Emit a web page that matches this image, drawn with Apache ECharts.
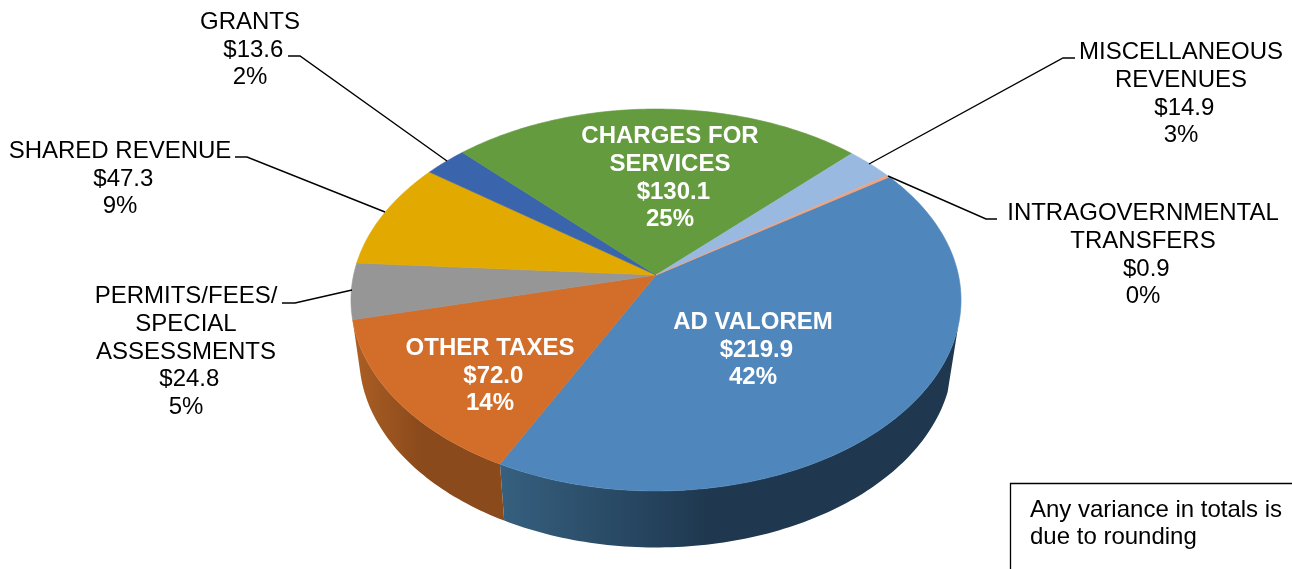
<!DOCTYPE html>
<html>
<head>
<meta charset="utf-8">
<title>Revenue pie</title>
<style>
html, body { margin: 0; padding: 0; background: #fff; }
#main { width: 1292px; height: 569px; }
</style>
<script src="https://cdn.jsdelivr.net/npm/echarts@6/dist/echarts.min.js"></script>
</head>
<body>
<div id="main"></div>
<script>
// data, clockwise from the top right edge of AD VALOREM
var categories = ['AD VALOREM', 'OTHER TAXES', 'PERMITS/FEES/\nSPECIAL\nASSESSMENTS', 'SHARED REVENUE', 'GRANTS', 'CHARGES FOR\nSERVICES', 'MISCELLANEOUS\nREVENUES', 'INTRAGOVERNMENTAL\nTRANSFERS'];
var amounts = [219.9, 72.0, 24.8, 47.3, 13.6, 130.1, 14.9, 0.9];
var percents = [42, 14, 5, 9, 2, 25, 3, 0];
var note = 'Any variance in totals is\ndue to rounding';

// styles
var topColors = ['#4f87bc', '#d26e2a', '#969696', '#e2a900', '#3a64ab', '#659b3f', '#9ab9e0', '#f2a27a'];
var wallColors = [['#36607f', '#1f3850'], ['#ad5f24', '#8a4a1c'], ['#6a6a6a', '#6a6a6a'], ['#a07800', '#a07800'], ['#2a4679', '#2a4679'], ['#47702d', '#47702d'], ['#6d85a0', '#6d85a0'], ['#a87050', '#a87050']];

// label placement: centre x, centre y, text colour, bold
var labelSpots = [
    [753, 350, '#fff', true],
    [490, 376, '#fff', true],
    [186, 352, '#000', false],
    [120, 179, '#000', false],
    [250, 50, '#000', false],
    [670, 178, '#fff', true],
    [1181, 94, '#000', false],
    [1143, 255, '#000', false]
];
// leader lines
var leaders = [
    [[288, 56], [300, 56], [447, 161]],
    [[235, 157], [247, 157], [385, 212]],
    [[282, 303], [295, 303], [352, 290]],
    [[1075, 58], [1063, 58], [869, 164]],
    [[997, 219], [986, 219], [888, 176]]
];

// pie geometry: circle seen in perspective
var cx = 656, cy = 275;
var a = 302.4, b = 187.7, k = 0.1309;
var depth = 56.5, shrink = 0.973;
var startDeg = -34.1;
// where the wall outline leaves the top face and meets the lower rim
var wallTop = [15, 167], wallLow = [18, 167];
var total = amounts.reduce(function (s, v) { return s + v; }, 0);

function project(deg, lower) {
    var t = deg * Math.PI / 180;
    var x = Math.cos(t), y = Math.sin(t);
    var s = 1 / (1 - k * y);
    if (lower) {
        return [cx + a * x * s * shrink, cy + b * y * s + depth];
    }
    return [cx + a * x * s, cy + b * y * s];
}
function arc(from, to, lower) {
    var pts = [];
    var n = Math.max(2, Math.ceil(Math.abs(to - from)));
    for (var i = 0; i <= n; i++) {
        pts.push(project(from + (to - from) * i / n, lower));
    }
    return pts;
}
function sliceAngles(index) {
    var before = 0;
    for (var i = 0; i < index; i++) before += amounts[i];
    return [startDeg + before / total * 360, startDeg + (before + amounts[index]) / total * 360];
}

var myChart = echarts.init(document.getElementById('main'));

var rows = amounts.map(function (v, i) { return [v, i]; });

var option = {
    backgroundColor: '#fff',
    animation: false,
    textStyle: { fontFamily: 'Liberation Sans' },
    graphic: [{
        type: 'rect',
        shape: { x: 1010.5, y: 483.5, width: 300, height: 120 },
        style: { fill: '#fff', stroke: '#000', lineWidth: 1.3 }
    }, {
        type: 'text',
        x: 1030, y: 524,
        style: { text: note, fill: '#000', font: '24px "Liberation Sans"', lineHeight: 27, verticalAlign: 'middle' }
    }].concat(leaders.map(function (pts) {
        return {
            type: 'polyline',
            z: 20,
            shape: { points: pts },
            style: { fill: null, stroke: '#000', lineWidth: 1.4 }
        };
    })),
    series: [{
        // side wall
        type: 'custom',
        coordinateSystem: 'none',
        z: 1,
        silent: true,
        data: rows,
        renderItem: function (params, api) {
            var i = api.value(1);
            var ang = sliceAngles(i);
            var topFrom = Math.max(ang[0], wallTop[0]), topTo = Math.min(ang[1], wallTop[1]);
            var lowFrom = Math.max(ang[0], wallLow[0]), lowTo = Math.min(ang[1], wallLow[1]);
            if (topFrom >= topTo || lowFrom >= lowTo) return;
            var pts = arc(topFrom, topTo, false).concat(arc(lowTo, lowFrom, true));
            return {
                type: 'polygon',
                shape: { points: pts },
                style: {
                    fill: new echarts.graphic.LinearGradient(0, 0, 1, 0, [
                        { offset: 0, color: wallColors[i][0] },
                        { offset: 0.45, color: wallColors[i][1] },
                        { offset: 1, color: wallColors[i][1] }
                    ])
                }
            };
        }
    }, {
        // top face
        type: 'custom',
        coordinateSystem: 'none',
        z: 2,
        silent: true,
        data: rows,
        renderItem: function (params, api) {
            var i = api.value(1);
            var ang = sliceAngles(i);
            var pts = [[cx, cy]].concat(arc(ang[0], ang[1], false));
            return {
                type: 'polygon',
                shape: { points: pts },
                style: { fill: topColors[i], stroke: topColors[i], lineWidth: 0.6 }
            };
        }
    }, {
        // labels, the leading space sits the amount a little right as in the original
        type: 'custom',
        coordinateSystem: 'none',
        z: 3,
        silent: true,
        data: rows,
        renderItem: function (params, api) {
            var i = api.value(1);
            var spot = labelSpots[i];
            return {
                type: 'text',
                x: spot[0],
                y: spot[1],
                style: {
                    text: categories[i] + '\n $' + api.value(0).toFixed(1) + '\n' + percents[i] + '%',
                    fill: spot[2],
                    font: (spot[3] ? 'bold ' : '') + '24px "Liberation Sans"',
                    lineHeight: 27.8,
                    align: 'center',
                    verticalAlign: 'middle'
                }
            };
        }
    }]
};
myChart.setOption(option);
</script>
</body>
</html>
